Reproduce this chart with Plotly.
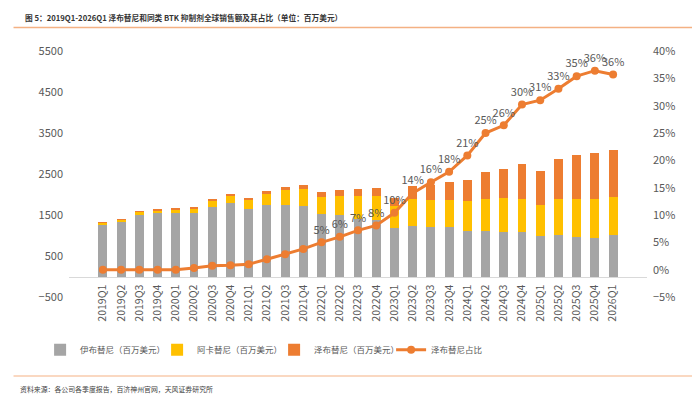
import plotly.graph_objects as go

"""
Zanubrutinib vs other BTK inhibitors, global sales and share
"""

quarters = [
    '2019Q1', '2019Q2', '2019Q3', '2019Q4',
    '2020Q1', '2020Q2', '2020Q3', '2020Q4',
    '2021Q1', '2021Q2', '2021Q3', '2021Q4',
    '2022Q1', '2022Q2', '2022Q3', '2022Q4',
    '2023Q1', '2023Q2', '2023Q3', '2023Q4',
    '2024Q1', '2024Q2', '2024Q3', '2024Q4',
    '2025Q1', '2025Q2', '2025Q3', '2025Q4',
    '2026Q1',
]

# sales, USD mn
ibrutinib = [
    1250, 1340, 1510, 1550,
    1559, 1542, 1696, 1786,
    1656, 1754, 1750, 1730,
    1518, 1510, 1396, 1371,
    1177, 1225, 1208, 1201,
    1111, 1104, 1096, 1079,
    982, 1023, 974, 933,
    1023,
]
acalabrutinib = [
    65, 55, 65, 57,
    81, 105, 146, 178,
    211, 267, 352, 397,
    427, 446, 568, 593,
    536, 658, 658, 675,
    723, 787, 811, 821,
    762, 868, 917, 967,
    926,
]
zanubrutinib = [
    2, 3, 5, 20,
    30, 40, 33, 48,
    48, 72, 90, 105,
    125, 154, 179, 194,
    202, 324, 375, 438,
    512, 667, 714, 853,
    829, 983, 1072, 1121,
    1128,
]
# zanubrutinib share, %
zanu_share = [
    0.0, 0.0, 0.0, 0.0,
    0.0, 0.3, 0.7, 0.8,
    1.0, 1.9, 2.8, 3.8,
    5.0, 6.0, 7.2, 8.1,
    10.4, 14.0, 16.0, 17.9,
    20.9, 25.0, 26.4, 30.2,
    31.0, 33.1, 35.4, 36.4,
    35.7,
]
label_from = '2022Q1'

font_num = "Liberation Sans Narrow, Noto Sans CJK SC, sans-serif"
font_cjk = "Noto Sans CJK SC, sans-serif"
grey_txt = '#595959'

fig = go.Figure()

fig.add_trace(go.Bar(x=quarters, y=ibrutinib, name='伊布替尼（百万美元）',
                     marker=dict(color='#A5A5A5', line=dict(width=0))))
fig.add_trace(go.Bar(x=quarters, y=acalabrutinib, name='阿卡替尼（百万美元）',
                     marker=dict(color='#FFC000', line=dict(width=0))))
fig.add_trace(go.Bar(x=quarters, y=zanubrutinib, name='泽布替尼（百万美元）',
                     marker=dict(color='#ED7D31', line=dict(width=0))))

labels = [f"{v:.0f}%" if q >= label_from else "" for q, v in zip(quarters, zanu_share)]
fig.add_trace(go.Scatter(
    x=quarters, y=zanu_share, yaxis='y2', name='泽布替尼占比',
    mode='lines+markers+text',
    line=dict(color='#ED7D31', width=3),
    marker=dict(color='#ED7D31', size=8),
    text=labels, textposition='top center',
    textfont=dict(family=font_num, size=11, color=grey_txt),
    cliponaxis=False,
))

# page body adds an 8px offset, so margins are shifted up/left by 8
fig.update_layout(
    width=700, height=404,
    margin=dict(l=61, r=61, t=43, b=115, autoexpand=False),
    plot_bgcolor='white', paper_bgcolor='white',
    barmode='stack', bargap=0.51,
    font=dict(family=font_num, size=11, color=grey_txt),
    showlegend=True,
    legend=dict(orientation='h', traceorder='normal',
                x=-0.05, xanchor='left', y=-0.214, yanchor='middle',
                font=dict(family=font_cjk, size=8.5, color=grey_txt),
                itemwidth=30, entrywidth=72, entrywidthmode='pixels',
                bgcolor='rgba(0,0,0,0)'),
    xaxis=dict(
        type='category', anchor='free', position=500 / 6000,
        showline=True, linecolor='#D9D9D9', linewidth=1,
        ticks='', tickangle=-90, showgrid=False, ticklabelstandoff=3,
        tickfont=dict(family=font_num, size=10.5, color=grey_txt),
    ),
    yaxis=dict(
        range=[-500, 5500], tickvals=[-500, 500, 1500, 2500, 3500, 4500, 5500],
        showgrid=False, zeroline=False, showline=False, ticks='',
        ticklabelstandoff=5,
        tickfont=dict(family=font_num, size=11, color=grey_txt),
    ),
    yaxis2=dict(
        overlaying='y', side='right',
        range=[-5, 40], dtick=5, ticksuffix='%',
        showgrid=False, zeroline=False, showline=False, ticks='',
        ticklabelstandoff=5,
        tickfont=dict(family=font_num, size=11, color=grey_txt),
    ),
)

# header / footer rules
fig.add_shape(type='line', xref='paper', yref='paper',
              x0=-0.096, x1=1.092, y0=1.096, y1=1.096,
              line=dict(color='#F4B183', width=1.5))
fig.add_shape(type='line', xref='paper', yref='paper',
              x0=-0.096, x1=1.092, y0=-0.321, y1=-0.321,
              line=dict(color='#F8CBAD', width=1.5))

fig.add_annotation(
    text='<b>图 5：2019Q1-2026Q1 泽布替尼和同类 BTK 抑制剂全球销售额及其占比（单位：百万美元）</b>',
    xref='paper', yref='paper', x=-0.08, y=1.137,
    xanchor='left', yanchor='middle', showarrow=False,
    font=dict(family=font_num, size=7.7, color='#333333'),
)
fig.add_annotation(
    text='资料来源：各公司各季度报告，百济神州官网，天风证券研究所',
    xref='paper', yref='paper', x=-0.0885, y=-0.372,
    xanchor='left', yanchor='middle', showarrow=False,
    font=dict(family=font_cjk, size=6.9, color='#404040'),
)

fig.write_html("out.html")
